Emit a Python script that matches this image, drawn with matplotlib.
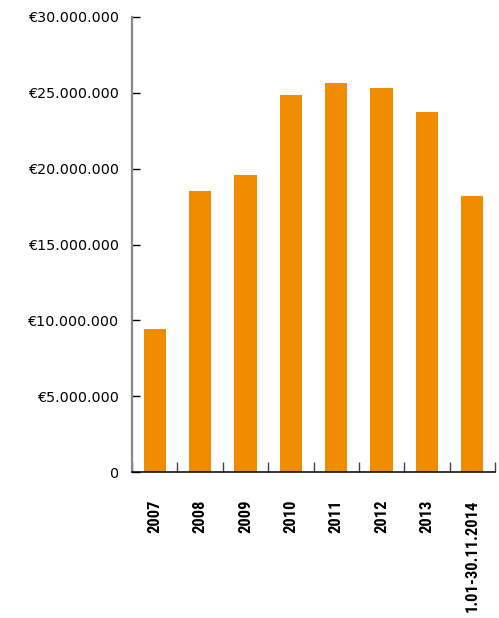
import matplotlib
matplotlib.use("Agg")
import matplotlib.pyplot as plt
from matplotlib.ticker import FuncFormatter, MultipleLocator, FixedLocator

categories = ["2007", "2008", "2009", "2010", "2011", "2012", "2013", "1.01-30.11.2014"]
values = [9.43e6, 18.5e6, 19.6e6, 24.85e6, 25.65e6, 25.3e6, 23.75e6, 18.2e6]

bar_color = "#F08C00"

fig = plt.figure(figsize=(4.99, 6.18), dpi=100)
ax = fig.add_axes([132/499, 1 - 472/618, (495 - 132)/499, (472 - 17)/618])

x = range(len(categories))
ax.bar(x, values, width=0.49, color=bar_color, zorder=2)

ax.set_xlim(-0.5, len(categories) - 0.5)
ax.set_ylim(0, 30e6)

def euro(v, pos):
    if v == 0:
        return "0"
    s = f"{int(round(v)):,}".replace(",", ".")
    return "\u20ac" + s

ax.yaxis.set_major_locator(MultipleLocator(5e6))
ax.yaxis.set_major_formatter(FuncFormatter(euro))
ax.tick_params(axis="y", direction="in", length=5.8, width=1.0, color="black",
               pad=9.0, labelsize=10.3, labelcolor="black")

ax.set_xticks(list(x))
ax.set_xticklabels(categories, rotation=90, va="top", ha="center",
                   family=["Roboto Condensed", "Roboto", "DejaVu Sans"],
                   fontweight="bold", fontsize=11.9)
ax.tick_params(axis="x", which="major", length=0, pad=20)
ax.xaxis.set_minor_locator(FixedLocator([i - 0.5 for i in range(len(categories) + 1)]))
ax.tick_params(axis="x", which="minor", direction="in", length=7.2, width=1.0, color="#444444")

for s in ["top", "right"]:
    ax.spines[s].set_visible(False)
ax.spines["left"].set_color("#888888")
ax.spines["left"].set_linewidth(1.6)
ax.spines["bottom"].set_color("black")
ax.spines["bottom"].set_linewidth(1.1)
ax.spines["bottom"].set_zorder(3)

fig.savefig("out.png", dpi=100)
